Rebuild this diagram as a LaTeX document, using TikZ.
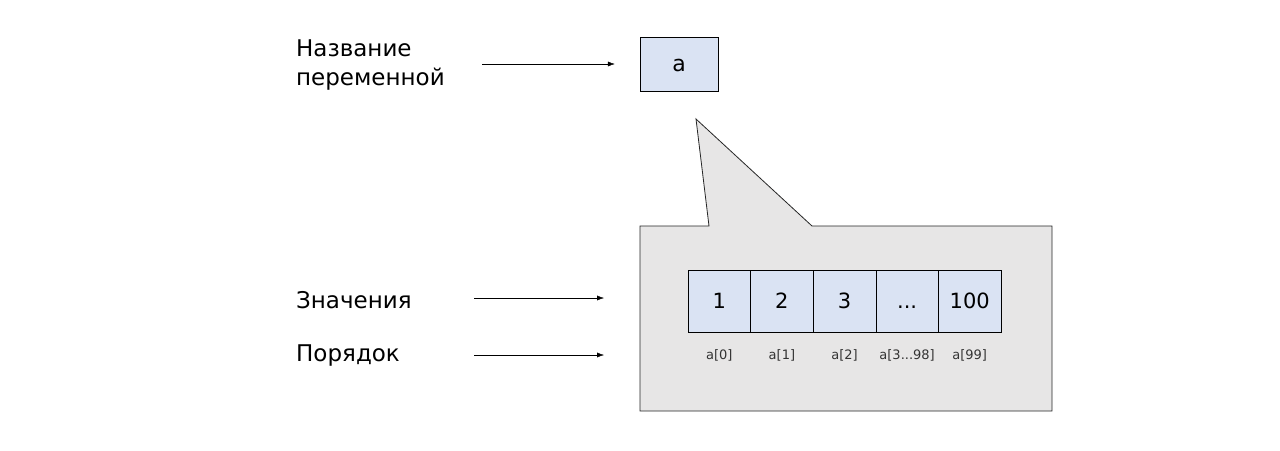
\documentclass[tikz,border=0pt]{standalone}
\usepackage{fontspec}
\setmainfont{DejaVu Sans}
\usetikzlibrary{arrows.meta}
\definecolor{cellblue}{HTML}{DAE3F3}
\definecolor{callgray}{HTML}{E7E6E6}
\newcommand{\celldots}{...}
\begin{document}
\begin{tikzpicture}[x=1pt, y=-1pt, >={Latex[length=7pt,width=5pt]},
  cell/.style={draw, fill=cellblue, minimum width=62.6pt, minimum height=62pt,
    inner sep=0pt, text height=15pt, text depth=0pt, font=\fontsize{21}{25}\selectfont},
  idx/.style={font=\fontsize{13}{16}\selectfont, text=black!80},
  lbl/.style={anchor=west, align=left, inner sep=0pt,
    font=\fontsize{23}{29}\selectfont}]
\useasboundingbox (0,0) rectangle (1280,450);
% Название переменной
\node[lbl] (namelbl) at (296,65) {Название\\переменной};
\node[cell, minimum width=78pt, minimum height=54pt, font=\fontsize{22}{26}\selectfont]
  (var) at (679,64) {a};
\coordinate (namefrom) at (482,64);
\draw[->] (namefrom) -- ([xshift=-25pt]var.west);
% выноска с массивом
\draw[draw=black!85, line width=0.8pt, fill=callgray] (640,226) -- (709,226) -- (696,119)
  -- (812,226) -- (1052,226) -- (1052,411) -- (640,411) -- cycle;
\foreach \v/\i [count=\k] in {1/a[0], 2/a[1], 3/a[2], \celldots/a[3\celldots98], 100/a[99]} {
  \node[cell] (c\k) at ({688+62.6*(\k-0.5)},301) {\v};
  \node[idx] (i\k) at ({688+62.6*(\k-0.5)},355) {\i};
}
% Значения и Порядок
\node[lbl] (vallbl) at (296,300) {Значения};
\node[lbl] (ordlbl) at (296,356) {Порядок};
\coordinate (valfrom) at (474,298);
\coordinate (valto) at (604,298);
\coordinate (ordfrom) at (474,355);
\coordinate (ordto) at (604,355);
\draw[->] (valfrom) -- (valto);
\draw[->] (ordfrom) -- (ordto);
\end{tikzpicture}
\end{document}
